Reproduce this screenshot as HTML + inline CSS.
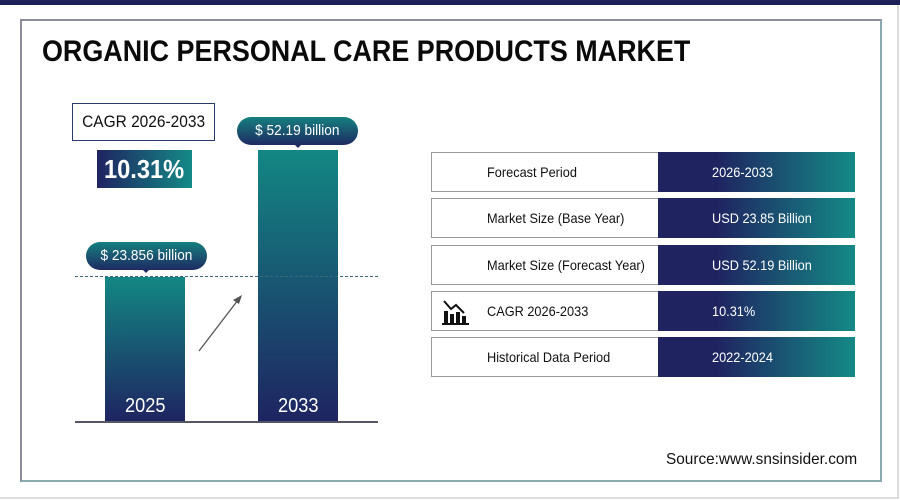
<!DOCTYPE html>
<html><head><style>
body{margin:0;width:900px;height:500px;background:#fff;position:relative;overflow:hidden;font-family:"Liberation Sans",sans-serif}
.a{position:absolute}
.c{display:inline-block;transform:scaleX(0.91);transform-origin:left center;white-space:nowrap}
.cc{display:inline-block;transform:scaleX(0.91);transform-origin:center center;white-space:nowrap}
.g{background:linear-gradient(90deg,#1f2461,#148a86)}
.gv{background:linear-gradient(180deg,#138783,#1e2461)}
.row{position:absolute;left:431px;width:424px;height:40px;border:1px solid #999;box-sizing:border-box;background:#fff}
.row .l{position:absolute;left:55px;top:11px;font-size:14px;color:#111}
.row .r{position:absolute;left:226px;top:-1px;right:-1px;bottom:-1px;background:linear-gradient(90deg,#1f2461 0%,#1f2461 30%,#148a86 100%);color:#fff;font-size:14px;padding:12px 0 0 54px;box-sizing:border-box}
.pill{position:absolute;height:28px;border-radius:14px;background:linear-gradient(180deg,#15807f,#1e2a63);color:#fff;font-size:15px;text-align:center;line-height:28px}
</style></head><body>
<div class="a" style="left:0;top:0;width:900px;height:5px;background:#1e2058"></div>
<div class="a" style="left:0;top:5px;width:897px;height:492px;border-right:2px solid #ddd;border-bottom:2px solid #ddd"></div>
<div class="a" style="left:20px;top:19px;width:858px;height:459px;border:2px solid #8aa9b0;border-left-color:#8c8c9a;border-top-color:#8c8c9a"></div>
<div class="a" style="left:42px;top:35px;font-size:30px;font-weight:bold;color:#0a0a0a"><span class="c" style="transform:scaleX(0.897)">ORGANIC PERSONAL CARE PRODUCTS MARKET</span></div>
<div class="a" style="left:72px;top:103px;width:143px;height:38px;border:1px solid #2a3a6a;box-sizing:border-box;font-size:17px;text-align:center;line-height:36px;color:#111"><span class="cc">CAGR 2026-2033</span></div>
<div class="a g" style="left:97px;top:150px;width:95px;height:38px;color:#fff;font-size:26px;font-weight:bold;text-align:center;line-height:38px"><span class="cc">10.31%</span></div>
<div class="pill" style="left:237px;top:117px;width:121px"><span class="cc">$ 52.19 billion</span></div>
<div class="a" style="left:294px;top:144px;border:4px solid transparent;border-top-color:#1e2a63"></div>
<div class="pill" style="left:86px;top:242px;width:121px"><span class="cc">$ 23.856 billion</span></div>
<div class="a" style="left:142px;top:269px;border:4px solid transparent;border-top-color:#1e2a63"></div>
<div class="a gv" style="left:258px;top:150px;width:80px;height:272px"></div>
<div class="a gv" style="left:105px;top:277px;width:80px;height:145px"></div>
<div class="a" style="left:105px;top:395px;width:80px;text-align:center;color:#fff;font-size:20px"><span class="cc">2025</span></div>
<div class="a" style="left:258px;top:395px;width:80px;text-align:center;color:#fff;font-size:20px"><span class="cc">2033</span></div>
<div class="a" style="left:75px;top:276px;width:303px;border-top:1px dashed #3a6a7a"></div>
<div class="a" style="left:75px;top:421px;width:303px;height:2px;background:#556"></div>
<svg class="a" style="left:0;top:0" width="900" height="500"><line x1="199" y1="351" x2="238" y2="300" stroke="#555" stroke-width="1.3"/><polygon points="242,295 233,300 239,304" fill="#555"/></svg>
<div class="row" style="top:152px"><span class="l"><span class="c">Forecast Period</span></span><div class="r"><span class="c">2026-2033</span></div></div>
<div class="row" style="top:198px"><span class="l"><span class="c">Market Size (Base Year)</span></span><div class="r"><span class="c">USD 23.85 Billion</span></div></div>
<div class="row" style="top:245px"><span class="l"><span class="c">Market Size (Forecast Year)</span></span><div class="r"><span class="c">USD 52.19 Billion</span></div></div>
<div class="row" style="top:291px"><span class="l"><span class="c">CAGR 2026-2033</span></span><div class="r"><span class="c">10.31%</span></div>
<svg class="a" style="left:10px;top:7px" width="30" height="26"><polyline points="2,2 9,10 14,6 22,14" fill="none" stroke="#111" stroke-width="2"/><rect x="2" y="12" width="4" height="12" fill="#111"/><rect x="8" y="15" width="4" height="9" fill="#111"/><rect x="14" y="13" width="4" height="11" fill="#111"/><rect x="20" y="17" width="4" height="7" fill="#111"/><rect x="0" y="24" width="27" height="2" fill="#111"/></svg></div>
<div class="row" style="top:337px"><span class="l"><span class="c">Historical Data Period</span></span><div class="r"><span class="c">2022-2024</span></div></div>
<div class="a" style="left:666px;top:451px;font-size:16px;color:#111"><span class="c" style="transform:scaleX(0.96)">Source:www.snsinsider.com</span></div>
</body></html>
